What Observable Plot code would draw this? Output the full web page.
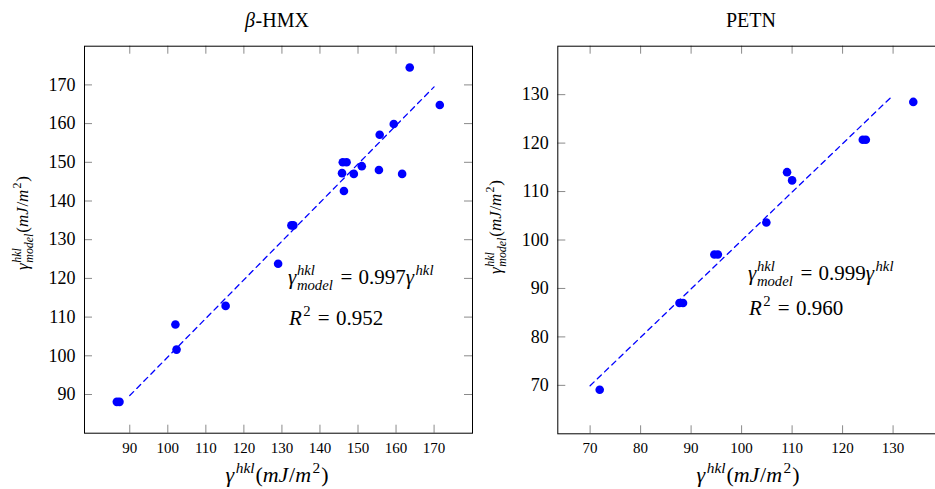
<!DOCTYPE html>
<html>
<head>
<meta charset="utf-8">
<script src="https://cdn.jsdelivr.net/npm/d3@7"></script>
<script src="https://cdn.jsdelivr.net/npm/@observablehq/plot@0.6"></script>
<style>
  html, body { margin: 0; padding: 0; background: #fff; overflow: hidden; }
  #figure { position: relative; width: 935px; height: 489px; overflow: hidden; background: #fff; }
  #figure > svg.panel { position: absolute; top: 0; }
  #overlay { position: absolute; left: 0; top: 0; pointer-events: none; }
  #overlay text { font-family: "Liberation Serif", "DejaVu Serif", serif; fill: #000; white-space: pre; }
  svg.panel text { font-family: "Liberation Serif", "DejaVu Serif", serif !important; fill: #000; }
  g[aria-label="x-axis tick label"] { font-size: 15px; }
  g[aria-label="y-axis tick label"] { font-size: 18px; }
</style>
</head>
<body>
<div id="figure"></div>
<script>
// β-HMX: measured surface energies vs. model values (mJ/m²)
const hmxGamma = [86.6, 87.3, 102.0, 102.3, 115.2, 129.0, 132.5, 133.0, 146.3, 145.8,
                  146.0, 147.0, 148.9, 151.0, 155.5, 155.7, 159.4, 161.6, 163.6, 171.5];
const hmxModel = [88.1, 88.1, 108.1, 101.6, 112.9, 123.8, 133.7, 133.7, 142.6, 147.2,
                  150.0, 150.0, 147.0, 149.0, 148.0, 157.1, 159.9, 147.0, 174.5, 164.8];
const hmxSlope = 0.997;
const hmxR2 = "0.952";
const hmxFitRange = [90, 170];
const hmxXTicks = [90, 100, 110, 120, 130, 140, 150, 160, 170];
const hmxYTicks = [90, 100, 110, 120, 130, 140, 150, 160, 170];

// PETN
const petnGamma = [71.9, 87.7, 88.4, 94.6, 95.3, 104.9, 109.0, 110.0, 124.0, 124.6, 134.0];
const petnModel = [69.1, 87.0, 87.0, 97.0, 97.0, 103.6, 114.0, 112.3, 120.7, 120.7, 128.5];
const petnSlope = 0.999;
const petnR2 = "0.960";
const petnFitRange = [70, 130];
const petnXTicks = [70, 80, 90, 100, 110, 120, 130];
const petnYTicks = [70, 80, 90, 100, 110, 120, 130];

const FONT = `"Liberation Serif", "DejaVu Serif", serif`;
const TICK_LEN = 8;

function panel({gamma, model, slope, fitRange, xTicks, yTicks, xDomain, yDomain, width, margins}) {
  const points = gamma.map((g, i) => ({g, m: model[i]}));
  const fit = fitRange.map(g => ({g, m: slope * g}));
  const [mt, mr, mb, ml] = margins;
  const height = 489;
  const innerW = width - ml - mr;
  const innerH = height - mt - mb;
  return Plot.plot({
    width, height,
    marginTop: mt, marginRight: mr, marginBottom: mb, marginLeft: ml,
    x: {domain: xDomain, label: null},
    y: {domain: yDomain, label: null},
    style: {fontFamily: FONT, color: "#000", background: "transparent", overflow: "visible"},
    marks: [
      // inward tick marks on all four sides
      Plot.ruleX(xTicks, {insetTop: innerH - TICK_LEN, stroke: "#8a8a8a", strokeWidth: 1}),
      Plot.ruleX(xTicks, {insetBottom: innerH - TICK_LEN, stroke: "#8a8a8a", strokeWidth: 1}),
      Plot.ruleY(yTicks, {insetRight: innerW - TICK_LEN, stroke: "#8a8a8a", strokeWidth: 1}),
      Plot.ruleY(yTicks, {insetLeft: innerW - TICK_LEN, stroke: "#8a8a8a", strokeWidth: 1}),
      Plot.axisX({ticks: xTicks, tickSize: 0, tickPadding: 9, label: null, fontSize: 15}),
      Plot.axisY({ticks: yTicks, tickSize: 0, tickPadding: 9, label: null, fontSize: 18}),
      Plot.frame({stroke: "#000", strokeWidth: 1}),
      Plot.line(fit, {x: "g", y: "m", stroke: "blue", strokeWidth: 1.3, strokeDasharray: "5.5,4.5"}),
      Plot.dot(points, {x: "g", y: "m", r: 4.3, fill: "blue", stroke: "none"})
    ]
  });
}

const fig = document.getElementById("figure");

const left = panel({
  gamma: hmxGamma, model: hmxModel, slope: hmxSlope, fitRange: hmxFitRange,
  xTicks: hmxXTicks, yTicks: hmxYTicks,
  xDomain: [78.1, 180.1], yDomain: [80, 180],
  width: 480, margins: [45.7, 8, 56.3, 84]
});
left.classList.add("panel");
left.style.left = "0px";
fig.appendChild(left);

const right = panel({
  gamma: petnGamma, model: petnModel, slope: petnSlope, fitRange: petnFitRange,
  xTicks: petnXTicks, yTicks: petnYTicks,
  xDomain: [63.6, 140.4], yDomain: [60, 140],
  width: 470, margins: [45.7, 4.9, 55.7, 77.3]
});
right.classList.add("panel");
right.style.left = "480px";
fig.appendChild(right);

// Text layer: titles, axis titles and fit annotations with sub/superscripts
const overlay = d3.select(fig).append("svg")
  .attr("id", "overlay").attr("width", 935).attr("height", 489);

function mathText(parts, size) {
  const g = overlay.append("g");
  let x = 0;
  const small = size * 0.7;
  const add = (txt, px, py, fs, italic) => g.append("text")
    .attr("x", px).attr("y", py).attr("font-size", fs)
    .attr("font-family", FONT)
    .attr("font-style", italic ? "italic" : "normal")
    .attr("xml:space", "preserve").text(txt);
  for (const p of parts) {
    if (p.stack) {
      const a = add(p.stack[0], x, -size * 0.42, small, true);
      const b = add(p.stack[1], x, size * 0.3, small, true);
      x += Math.max(a.node().getComputedTextLength(), b.node().getComputedTextLength()) + size * 0.06;
    } else if (p.sup) {
      const t = add(p.t, x + size * 0.04, -size * 0.42, small, p.it);
      x += t.node().getComputedTextLength() + size * 0.08;
    } else if (p.rel) {
      // relation symbol with math spacing on both sides
      x += size * 0.3;
      const t = add(p.t, x, 0, size, false);
      x += t.node().getComputedTextLength() + size * 0.3;
    } else {
      const t = add(p.t, x, 0, size, p.it);
      x += t.node().getComputedTextLength() + (p.it ? size * 0.03 : 0);
    }
  }
  return {g, width: x};
}

function placeCentered(parts, size, cx, baseline) {
  const {g, width} = mathText(parts, size);
  g.attr("transform", `translate(${cx - width / 2},${baseline})`);
}
function placeLeft(parts, size, x, baseline) {
  const {g} = mathText(parts, size);
  g.attr("transform", `translate(${x},${baseline})`);
}
function placeVertical(parts, size, bx, cy) {
  const {g, width} = mathText(parts, size);
  g.attr("transform", `translate(${bx},${cy}) rotate(-90) translate(${-width / 2},0)`);
}

const gammaLabel = [
  {t: "γ", it: true}, {t: "hkl", it: true, sup: true},
  {t: "("}, {t: "mJ", it: true}, {t: "/"}, {t: "m", it: true}, {t: "2", sup: true}, {t: ")"}
];
const modelLabel = [
  {t: "γ", it: true}, {stack: ["hkl", "model"]},
  {t: "("}, {t: "mJ", it: true}, {t: "/"}, {t: "m", it: true}, {t: "2", sup: true}, {t: ")"}
];
const fitLine = s => [
  {t: "γ", it: true}, {stack: ["hkl", "model"]}, {t: "=", rel: true}, {t: s.toFixed(3)},
  {t: "γ", it: true}, {t: "hkl", it: true, sup: true}
];
const r2Line = r => [{t: "R", it: true}, {t: "2", sup: true}, {t: "=", rel: true}, {t: r}];

// titles
placeCentered([{t: "β", it: true}, {t: "-HMX"}], 20, 277, 27);
placeCentered([{t: "PETN"}], 20, 751, 27);
// axis titles
placeCentered(gammaLabel, 22, 277, 482);
placeCentered(gammaLabel, 22, 748, 482);
placeVertical(modelLabel, 17, 28, 223);
placeVertical(modelLabel, 17, 501, 227);
// fit annotations
placeLeft(fitLine(hmxSlope), 21, 288, 284);
placeLeft(r2Line(hmxR2), 21, 289, 325);
placeLeft(fitLine(petnSlope), 21, 748, 280);
placeLeft(r2Line(petnR2), 21, 749, 315);
</script>
</body>
</html>
